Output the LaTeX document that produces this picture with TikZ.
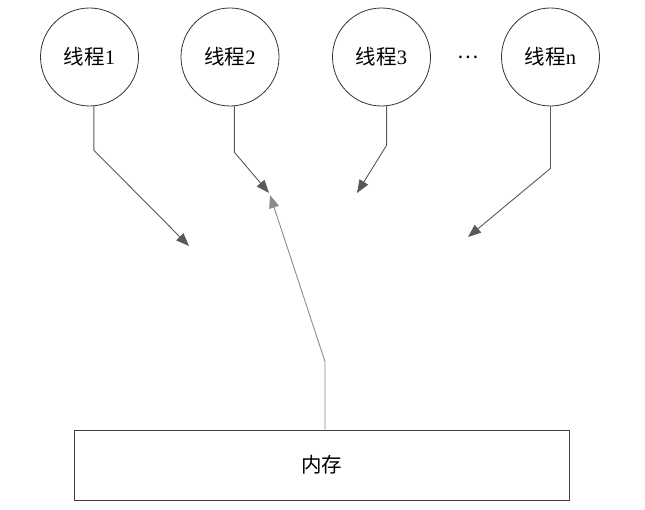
\documentclass[tikz,border=0pt]{standalone}
\usepackage{fontspec}
\setmainfont{Liberation Serif}
\newfontfamily\cjk{Noto Sans CJK SC}
\usetikzlibrary{arrows.meta,calc}
\begin{document}
\begin{tikzpicture}[x=1pt,y=-1pt,
  thread/.style={circle,draw=black!80,line width=0.8pt,minimum size=98pt,inner sep=0pt,font=\fontsize{20.5}{22}\selectfont},
  membox/.style={draw=black!75,line width=0.8pt,minimum width=495pt,minimum height=70pt,inner sep=0pt,font=\fontsize{20.5}{22}\selectfont},
  link/.style={draw=black!65,line width=0.9pt,-{Triangle[length=13pt,width=10pt]}},
  back/.style={draw=black!45,line width=0.9pt,-{Triangle[length=13pt,width=10pt]}}]
\useasboundingbox (0,0) rectangle (645,510);

% threads
\node[thread] (t1) at (89.5,57) {{\cjk 线程}1};
\node[thread] (t2) at (230,57) {{\cjk 线程}2};
\node[thread] (t3) at (381.5,57) {{\cjk 线程}3};
\node[font=\fontsize{20}{22}\selectfont] (dots) at (468,57) {\cjk …};
\node[thread] (tn) at (550.5,57) {{\cjk 线程}n};

% shared memory
\node[membox] (mem) at (321.5,465) {\cjk 内存};

% bend points and arrow ends
\coordinate (e1) at (189,246);
\coordinate (e2) at (269,193);
\coordinate (e3) at (357,193);
\coordinate (en) at (468,237);
\coordinate (eb) at (270,195);

\draw[link] (t1.-85) -- ++(0,44) -- (e1);
\draw[link] (t2.-85) -- ++(0,46) -- (e2);
\draw[link] (t3.-84) -- ++(0,39) -- (e3);
\draw[link] (tn.south) -- ++(0,62) -- (en);
\draw[back] ([xshift=3.5pt]mem.north) -- ++(0,-68) -- (eb);
\end{tikzpicture}
\end{document}
